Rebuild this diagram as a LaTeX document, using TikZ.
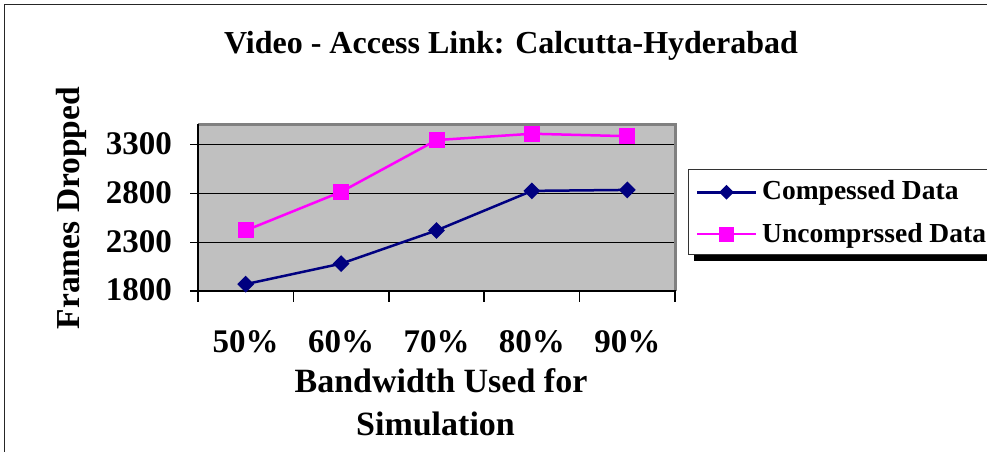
\documentclass[tikz,border=0pt]{standalone}
\usepackage{fontspec}
\setmainfont{Liberation Serif}
\usetikzlibrary{shapes.geometric}
\definecolor{navyc}{HTML}{000080}
\definecolor{magc}{HTML}{FF00FF}
\definecolor{plotgray}{HTML}{C0C0C0}
\definecolor{edgegray}{HTML}{808080}
\begin{document}
\begin{tikzpicture}[x=1bp,y=-1bp,
  txt/.style={inner sep=0pt,font=\bfseries\fontsize{#1bp}{#1bp}\selectfont},
  cmark/.style={diamond,fill=navyc,draw=none,inner sep=0pt,minimum width=17bp,minimum height=17bp},
  umark/.style={rectangle,fill=magc,draw=none,inner sep=0pt,minimum size=16bp},
  cline/.style={navyc,line width=2.5bp},
  uline/.style={magc,line width=2.5bp},
  gridl/.style={black,line width=1bp},
  axisl/.style={black,line width=1.5bp}]
\useasboundingbox (0,0) rectangle (987,452);
\clip (0,0) rectangle (987,452);
% outer frame
\draw[black!85,line width=1.5bp] (4.5,460) -- (4.5,4.5) -- (995,4.5);
% title
\node[txt=32,anchor=base] (title) at (511,53.3) {Video - Access Link: Calcutta-Hyderabad};
% plot area
\fill[plotgray] (198,124.5) rectangle (675,291);
\foreach \g in {144.5,193.5,242.5} \draw[gridl] (198,\g) -- (675,\g);
\draw[edgegray,line width=3bp] (198,124.5) -- (675,124.5) -- (675,291);
\draw[axisl] (198,124.5) -- (198,291) -- (676,291);
\foreach \g in {144.5,193.5,242.5,291} \draw[axisl] (190,\g) -- (198,\g);
\foreach \t in {0,...,5} \draw[axisl] ({198+95.4*\t},291) -- ({198+95.4*\t},302);
% y labels
\foreach \g/\lab in {144.5/3300,193.5/2800,242.5/2300,291/1800}
  \node[txt=33,anchor=base east] (y\lab) at (172,\g+10) {\lab};
% x labels
\foreach \lab [count=\i] in {50\%,60\%,70\%,80\%,90\%}
  \node[txt=33,anchor=base] (x\i) at ({245.7+95.4*(\i-1)},353) {\lab};
% axis titles
\node[txt=33.5,anchor=base,rotate=90] (ytitle) at (79,208) {Frames Dropped};
\node[txt=34,anchor=base] (xtitle1) at (441,393) {Bandwidth Used for};
\node[txt=34,anchor=base] (xtitle2) at (435.5,435) {Simulation};
% data
\foreach \v [count=\i] in {1870,2080,2420,2825,2835}
  \coordinate (c\i) at ({245.7+95.4*(\i-1)},{291-(\v-1800)*0.09767});
\foreach \v [count=\i] in {2420,2815,3345,3410,3385}
  \coordinate (u\i) at ({245.7+95.4*(\i-1)},{291-(\v-1800)*0.09767});
\draw[uline] (u1) -- (u2) -- (u3) -- (u4) -- (u5);
\draw[cline] (c1) -- (c2) -- (c3) -- (c4) -- (c5);
\foreach \i in {1,...,5} \node[umark] (um\i) at (u\i) {};
\foreach \i in {1,...,5} \node[cmark] (cm\i) at (c\i) {};
% legend
\fill[black] (694,255) rectangle (995,261.5);
\draw[black!80,line width=1bp,fill=white] (688.5,169.5) rectangle (995,255);
\coordinate (l1a) at (697,192.3);
\coordinate (l1b) at (756,192.3);
\coordinate (l2a) at (697,234.2);
\coordinate (l2b) at (756,234.2);
\draw[cline] (l1a) -- (l1b);
\draw[uline] (l2a) -- (l2b);
\node[cmark,minimum width=15bp,minimum height=15bp] (lm1) at (726.5,192.3) {};
\node[umark,minimum size=15bp] (lm2) at (726.5,234.2) {};
\node[txt=27.5,anchor=base west] (leg1) at (762,200) {Compessed Data};
\node[txt=27.5,anchor=base west] (leg2) at (762,243) {Uncomprssed Data};
\end{tikzpicture}
\end{document}
